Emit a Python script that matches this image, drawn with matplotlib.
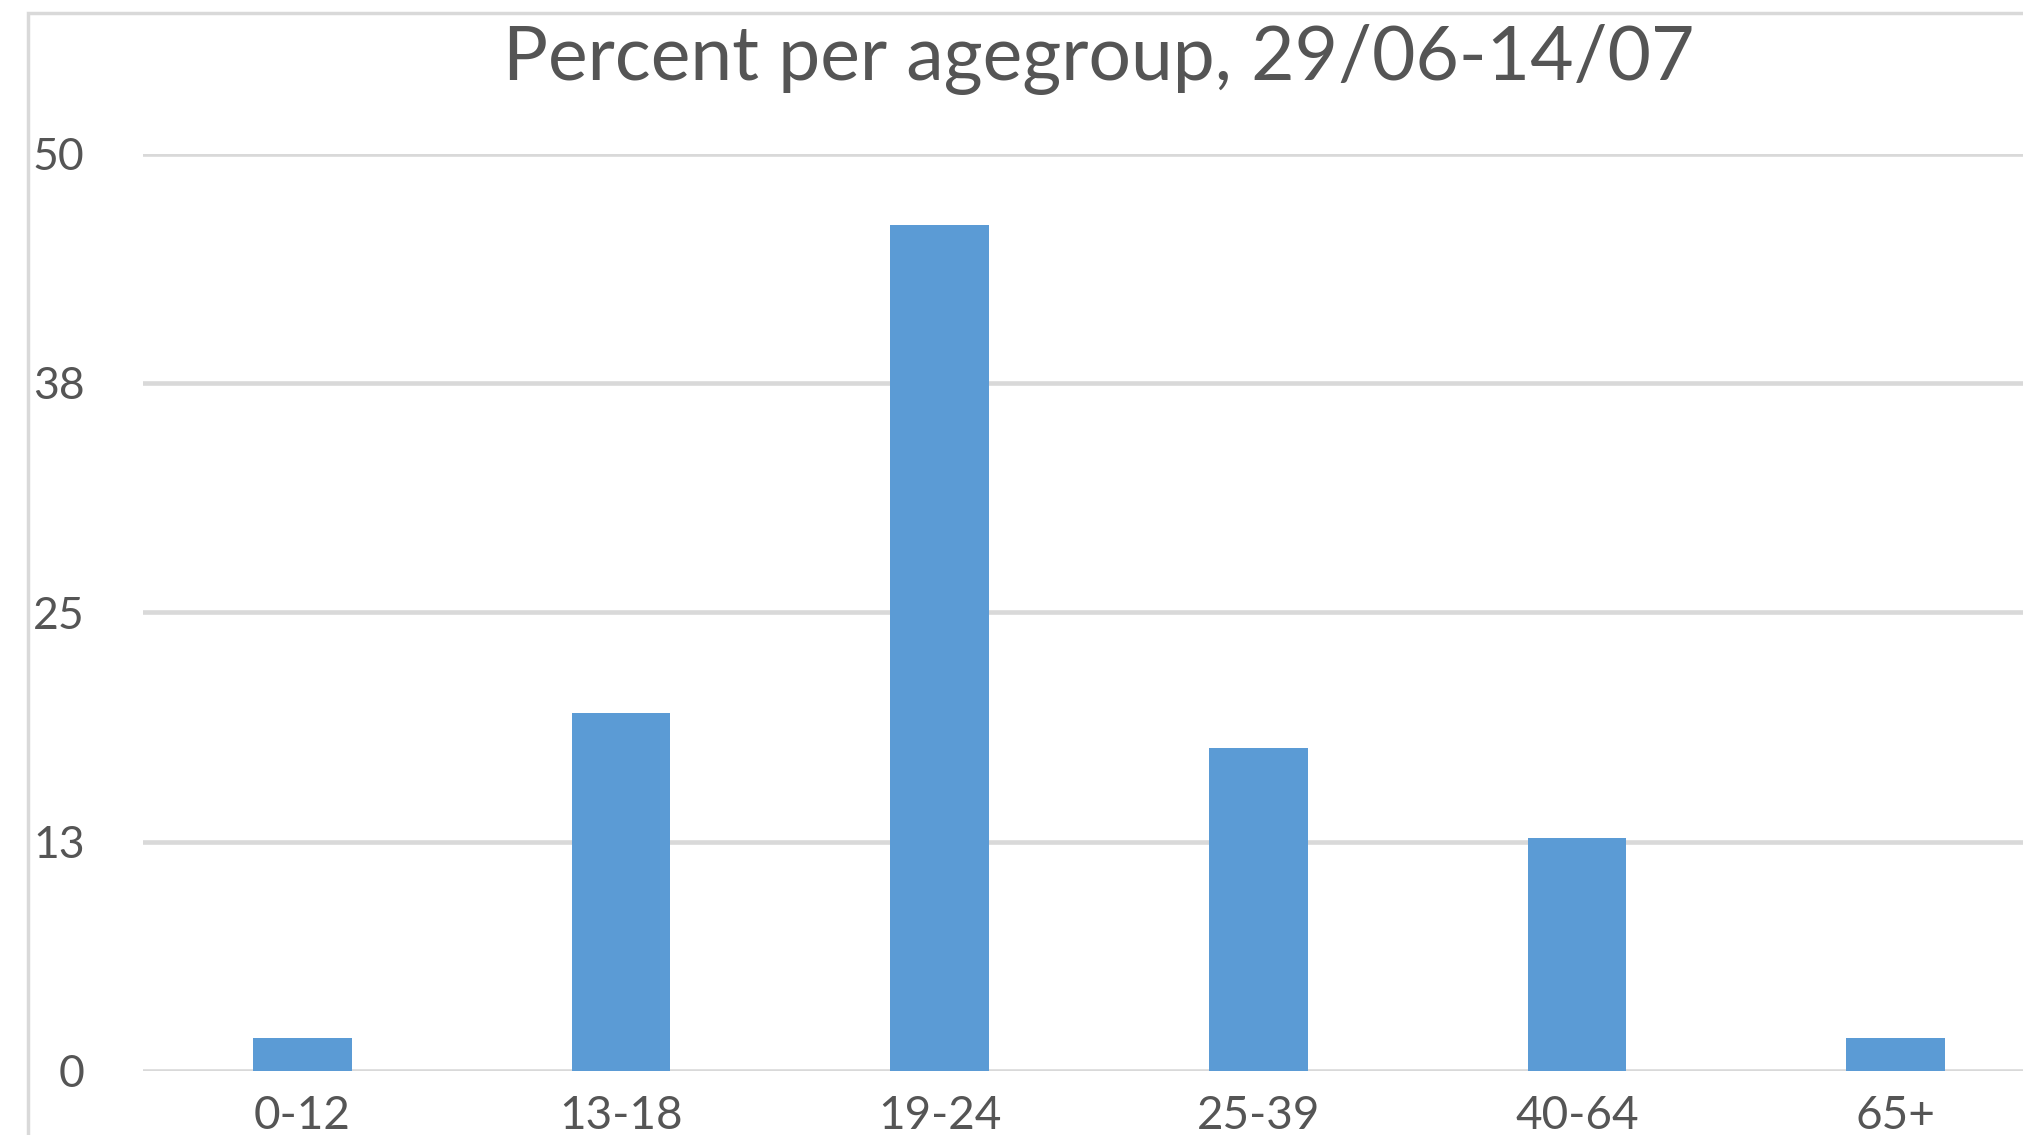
import matplotlib.pyplot as plt
from matplotlib.patches import Rectangle

groups = ['0-12', '13-18', '19-24', '25-39', '40-64', '65+']
percent = [1.8, 19.5, 46.1, 17.6, 12.7, 1.8]
yticks = [0, 12.5, 25, 37.5, 50]
ylabels = ['0', '13', '25', '38', '50']

plt.rcParams['font.family'] = ['Lato', 'DejaVu Sans']
text_col = '#555555'
grid_col = '#D9D9D9'

fig = plt.figure(figsize=(20.23, 11.35), dpi=100)
ax = fig.add_axes([0.0707, 0.0564, 0.9293, 0.8083])

# outer chart frame (cropped on right and bottom)
fig.patches.append(Rectangle((0.0138, -0.1), 1.2, 1.0885, transform=fig.transFigure,
                             fill=False, edgecolor=grid_col, linewidth=2.5))

x = range(len(groups))
ax.bar(x, percent, width=0.31, color='#5B9BD5', zorder=3)

ax.set_xlim(-0.5, 5.4)
ax.set_ylim(0, 50)
ax.set_yticks(yticks)
ax.set_yticklabels(ylabels)
ax.set_xticks(list(x))
ax.set_xticklabels(groups)
ax.yaxis.grid(True, color=grid_col, linewidth=3.3, zorder=0)
ax.set_axisbelow(True)
for s in ax.spines.values():
    s.set_visible(False)
ax.tick_params(axis='both', length=0, colors=text_col)
ax.tick_params(axis='y', pad=42, labelsize=32)
ax.tick_params(axis='x', pad=17, labelsize=33)

fig.text(0.543, 0.948, 'Percent per agegroup, 29/06-14/07', ha='center', va='center',
         fontsize=54, color=text_col)

fig.savefig('out.png', dpi=100)
